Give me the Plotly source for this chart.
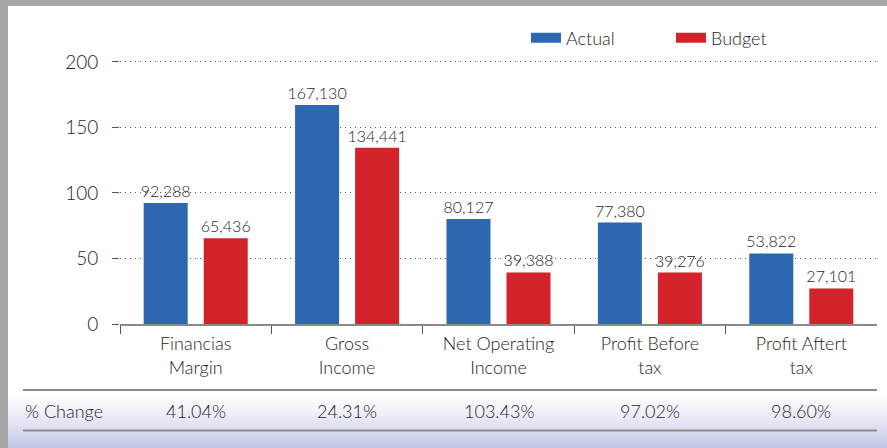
import plotly.graph_objects as go

categories = ["Financias<br>Margin", "Gross<br>Income", "Net Operating<br>Income",
              "Profit Before<br>tax", "Profit Aftert<br>tax"]
actual = [92288, 167130, 80127, 77380, 53822]
budget = [65436, 134441, 39388, 39276, 27101]
pct_change = ["41.04%", "24.31%", "103.43%", "97.02%", "98.60%"]
series_names = ["Actual", "Budget"]
y_ticks = [0, 50, 100, 150, 200]

BLUE = "#2e67b1"
RED = "#d2232a"
TXT = "#1e1e1e"
FONT = "Lato"
WT = 300
W, H = 887, 448


def py(pix):  # pixel row -> paper y
    return 1 - pix / H


def px(pix):  # pixel column -> paper x
    return pix / W


fig = go.Figure()
for name, vals, col in [(series_names[0], actual, BLUE), (series_names[1], budget, RED)]:
    fig.add_trace(go.Bar(
        x=categories, y=[v / 1000 for v in vals], name=name,
        marker=dict(color=col, line=dict(width=0)),
        text=[f"{v:,}" for v in vals], textposition="outside",
        constraintext="none",
        textfont=dict(family=FONT, size=16, color=TXT, weight=WT),
        cliponaxis=False, showlegend=False,
    ))
    # legend entry drawn as a thick line so the swatch is a wide rectangle
    fig.add_trace(go.Scatter(
        x=[None], y=[None], mode="lines", name=name,
        line=dict(color=col, width=12), showlegend=True,
    ))

shapes = []
# gradient band behind the % Change row
top, bot = 392, 448
c0 = (255, 255, 255)
c1 = (196, 198, 232)
n = 28
for i in range(n):
    t = i / (n - 1)
    t2 = t ** 1.3
    col = tuple(int(c0[k] + (c1[k] - c0[k]) * t2) for k in range(3))
    y0 = top + (bot - top) * i / n
    y1 = top + (bot - top) * (i + 1) / n + 0.5
    shapes.append(dict(type="rect", xref="paper", yref="paper",
                       x0=0, x1=1, y0=py(y1), y1=py(y0),
                       fillcolor="rgb(%d,%d,%d)" % col, line=dict(width=0), layer="below"))
# row separator lines
for yy in (390, 430.5):
    shapes.append(dict(type="line", xref="paper", yref="paper",
                       x0=px(23), x1=px(877), y0=py(yy), y1=py(yy),
                       line=dict(color="#8a8a8a", width=2)))
# grey frame
shapes.append(dict(type="rect", xref="paper", yref="paper", x0=0, x1=1,
                   y0=py(6), y1=1, fillcolor="#a6a6a6", line=dict(width=0)))
shapes.append(dict(type="rect", xref="paper", yref="paper", x0=0, x1=px(8),
                   y0=0, y1=1, fillcolor="#a6a6a6", line=dict(width=0)))

annotations = [dict(text="% Change", xref="paper", yref="paper", x=px(23), y=py(411),
                    xanchor="left", yanchor="middle", showarrow=False,
                    font=dict(family=FONT, size=18, color=TXT, weight=WT))]
for c, p in zip(categories, pct_change):
    annotations.append(dict(text=p, xref="x", yref="paper", x=c, y=py(411),
                            xanchor="center", yanchor="middle", showarrow=False,
                            font=dict(family=FONT, size=18, color=TXT, weight=WT)))

fig.update_layout(
    width=W, height=H,
    margin=dict(l=0, r=0, t=0, b=0, autoexpand=False),
    paper_bgcolor="white", plot_bgcolor="white",
    barmode="group", bargap=0.207, bargroupgap=0.267,
    font=dict(family=FONT, color=TXT, weight=WT),
    shapes=shapes, annotations=annotations,
    legend=dict(orientation="h", x=px(526), y=py(38), xanchor="left", yanchor="middle",
                font=dict(family=FONT, size=18, color=TXT, weight=WT),
                entrywidth=100, entrywidthmode="pixels",
                bgcolor="rgba(0,0,0,0)", borderwidth=0),
    xaxis=dict(domain=[px(120), px(877)], showline=True, linecolor="#8a8a8a", linewidth=1.5,
               ticks="outside", tickson="boundaries", ticklen=8, tickcolor="#555555",
               ticklabelstandoff=3,
               tickfont=dict(family=FONT, size=18, color=TXT, weight=WT), showgrid=False,
               fixedrange=True),
    yaxis=dict(domain=[py(324), py(60)], range=[0, 201.5], tickvals=y_ticks,
               ticks="outside", ticklen=7, tickcolor="#555555", tickwidth=1,
               ticklabelstandoff=10,
               tickfont=dict(family=FONT, size=19, color=TXT, weight=WT),
               showgrid=True, gridcolor="#555555", griddash="1px,4px", gridwidth=1,
               zeroline=False, showline=False),
)

fig.write_html("out.html", config={"displayModeBar": False},
               post_script="document.body.style.margin='0';document.body.style.overflow='hidden';")
